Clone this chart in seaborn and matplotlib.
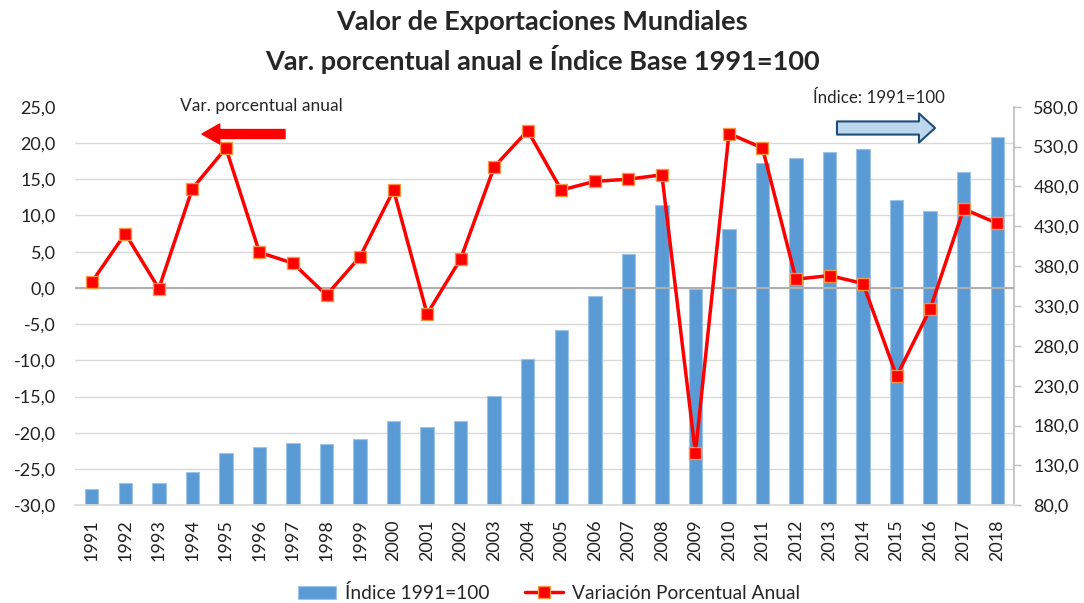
import numpy as np
import pandas as pd
import seaborn as sns
import matplotlib.pyplot as plt
from matplotlib.ticker import FuncFormatter

# data
years = [str(y) for y in range(1991, 2019)]
indice = [100.0, 107.6, 107.6, 122.2, 145.6, 153.2, 158.2, 156.5, 163.2, 185.4,
          178.6, 185.4, 217.1, 264.0, 300.0, 343.0, 395.0, 456.4, 351.8, 427.0,
          510.0, 515.4, 523.7, 527.0, 462.7, 448.9, 497.8, 541.7]
var_pct = [0.8, 7.5, -0.1, 13.7, 19.3, 4.9, 3.4, -1.0, 4.3, 13.5,
           -3.6, 4.0, 16.7, 21.7, 13.5, 14.7, 15.0, 15.6, -22.8, 21.3,
           19.3, 1.2, 1.7, 0.6, -12.2, -2.9, 10.9, 8.9]

df = pd.DataFrame({"year": years, "indice": indice, "var": var_pct})
df["pos"] = np.arange(len(df))

sns.set_theme(style="white")
plt.rcParams["font.family"] = ["Lato", "DejaVu Sans"]

W, H = 1084, 603
fig = plt.figure(figsize=(W / 100, H / 100), dpi=100)
ax_bar = fig.add_axes([75 / W, 1 - 505.3 / H, (1014 - 75) / W, (505.3 - 106.7) / H])
ax_line = ax_bar.twinx()

# bars on the right scale
sns.barplot(data=df, x="year", y="indice", ax=ax_bar, color="#5b9bd5",
            width=0.4, saturation=1, edgecolor="#9dc3e6", linewidth=0.8)
ax_bar.set_ylim(80, 580)
ax_bar.set_xlim(-0.5, len(df) - 0.5)
ax_bar.set_yticks(np.arange(80, 581, 50))

# gridlines at the left-axis ticks, drawn behind the bars
left_ticks = np.arange(-30, 26, 5)
grid_pos = 80 + (left_ticks + 30) * 500 / 55
ax_bar.set_yticks(grid_pos, minor=True)
ax_bar.grid(which="minor", axis="y", color="#d9d9d9", lw=1)
ax_bar.grid(which="major", axis="y", visible=False)
ax_bar.set_axisbelow(True)

# line on the left scale
sns.lineplot(data=df, x="pos", y="var", ax=ax_line, color="red", lw=2.5,
             marker="s", markersize=8, markerfacecolor="red",
             markeredgecolor="#f79646", markeredgewidth=1)
ax_line.axhline(0, color="#b0b0b0", lw=1.5, zorder=1)
ax_line.set_ylim(-30, 25)
ax_line.set_yticks(left_ticks)

fmt = FuncFormatter(lambda v, p: f"{v:.1f}".replace(".", ","))
ax_line.yaxis.set_major_formatter(fmt)
ax_bar.yaxis.set_major_formatter(fmt)

# swap sides: line axis on the left, bar axis on the right
ax_line.yaxis.tick_left()
ax_line.tick_params(axis="y", length=0, pad=14, labelsize=13, labelcolor="#222222")
ax_bar.yaxis.tick_right()
ax_bar.tick_params(axis="y", which="major", right=True, length=5, width=1,
                   color="#bfbfbf", direction="out", pad=9, labelsize=13,
                   labelcolor="#222222")
ax_bar.tick_params(axis="y", which="minor", length=0, left=False, right=False)
ax_bar.tick_params(axis="x", length=0, pad=10, labelsize=13, rotation=90,
                   labelcolor="#222222")

for a in (ax_bar, ax_line):
    a.set_xlabel("")
    a.set_ylabel("")
    for s in a.spines.values():
        s.set_visible(False)
ax_bar.spines["bottom"].set_visible(True)
ax_bar.spines["bottom"].set_color("#d9d9d9")
ax_bar.spines["right"].set_visible(True)
ax_bar.spines["right"].set_color("#bfbfbf")

# titles
fig.text(0.5, 1 - 22 / H, "Valor de Exportaciones Mundiales", ha="center",
         va="center", fontsize=19.5, weight="bold")
fig.text(0.5, 1 - 60 / H, "Var. porcentual anual e Índice Base 1991=100",
         ha="center", va="center", fontsize=19.5, weight="bold")

# axis hints with arrows
fig.text(180 / W, 1 - 106 / H, "Var. porcentual anual", ha="left", va="center",
         fontsize=12.5)
ax_line.annotate("", xy=(202 / W, 1 - 134 / H), xytext=(285 / W, 1 - 134 / H),
                 xycoords="figure fraction", textcoords="figure fraction",
                 annotation_clip=False,
                 arrowprops=dict(arrowstyle="simple,head_length=0.85,head_width=0.96,tail_width=0.43",
                                 color="red", mutation_scale=15, shrinkA=0, shrinkB=0))
fig.text(813 / W, 1 - 98 / H, "Índice: 1991=100", ha="left", va="center",
         fontsize=12.2)
ax_line.annotate("", xy=(935 / W, 1 - 128 / H), xytext=(837 / W, 1 - 128 / H),
                 xycoords="figure fraction", textcoords="figure fraction",
                 annotation_clip=False,
                 arrowprops=dict(arrowstyle="simple,head_length=0.77,head_width=1.4,tail_width=0.63",
                                 fc="#bdd7ee", ec="#1f4e79", lw=1.5,
                                 mutation_scale=15, shrinkA=0, shrinkB=0))

# legend
if ax_line.get_legend() is not None:
    ax_line.get_legend().remove()
handles = [ax_bar.patches[0], ax_line.lines[0]]
fig.legend(handles, ["Índice 1991=100", "Variación Porcentual Anual"],
           loc="center", bbox_to_anchor=(549 / W, 1 - 593 / H), ncol=2,
           frameon=False, fontsize=13.8, handlelength=1.95, handletextpad=0.47,
           columnspacing=1.88)

fig.savefig("out.png", dpi=100)
